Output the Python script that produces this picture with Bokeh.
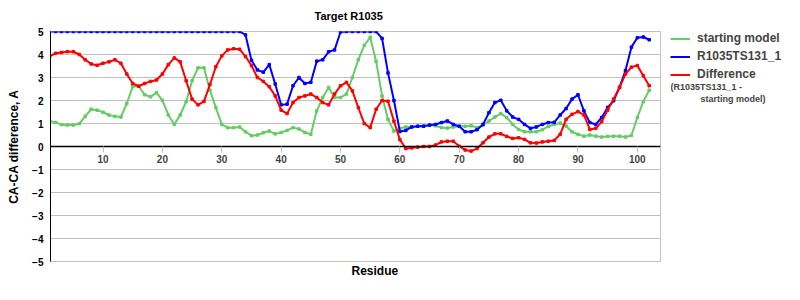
from bokeh.plotting import figure
from bokeh.layouts import row
from bokeh.models import (Range1d, LinearAxis, FixedTicker, Legend, LegendItem,
                          Label, Title)
from bokeh.embed import file_html
from bokeh.resources import INLINE

# ---------------- data ----------------
residues = list(range(1, 103))

starting_model = [
    1.11, 1.05, 0.95, 0.93, 0.93, 0.99, 1.31, 1.62, 1.58, 1.49,
    1.37, 1.31, 1.28, 1.87, 2.60, 2.63, 2.25, 2.16, 2.34, 2.01,
    1.37, 0.96, 1.37, 1.95, 2.86, 3.42, 3.42, 2.45, 1.69, 0.96,
    0.82, 0.82, 0.85, 0.64, 0.47, 0.50, 0.60, 0.67, 0.55, 0.61,
    0.70, 0.82, 0.76, 0.61, 0.53, 1.55, 2.13, 2.57, 2.13, 2.13,
    2.28, 3.00, 3.77, 4.40, 4.75, 3.70, 2.20, 1.18, 0.67, 0.79,
    0.85, 0.85, 0.88, 0.90, 0.93, 0.90, 0.82, 0.80, 0.85, 0.88,
    0.88, 0.90, 0.82, 0.93, 1.11, 1.28, 1.43, 1.26, 0.96, 0.74,
    0.64, 0.64, 0.64, 0.73, 0.87, 0.96, 1.02, 0.89, 0.64, 0.53,
    0.45, 0.50, 0.45, 0.41, 0.44, 0.45, 0.45, 0.41, 0.48, 1.26,
    1.95, 2.45,
]

r1035ts131_1 = [
    5.00, 5.00, 5.00, 5.00, 5.00, 5.00, 5.00, 5.00, 5.00, 5.00,
    5.00, 5.00, 5.00, 5.00, 5.00, 5.00, 5.00, 5.00, 5.00, 5.00,
    5.00, 5.00, 5.00, 5.00, 5.00, 5.00, 5.00, 5.00, 5.00, 5.00,
    5.00, 5.00, 5.00, 4.85, 3.75, 3.33, 3.23, 3.56, 2.72, 1.81,
    1.84, 2.64, 3.00, 2.74, 2.79, 3.71, 3.77, 4.12, 4.20, 4.98,
    5.00, 5.00, 5.00, 5.00, 5.00, 5.00, 4.70, 3.20, 2.00, 0.65,
    0.70, 0.85, 0.88, 0.88, 0.93, 0.96, 1.04, 1.11, 0.96, 0.88,
    0.64, 0.64, 0.73, 0.96, 1.47, 1.91, 2.01, 1.55, 1.28, 1.18,
    0.96, 0.79, 0.85, 0.96, 1.04, 1.05, 1.37, 1.65, 2.06, 2.25,
    1.55, 1.04, 0.96, 1.26, 1.70, 1.99, 2.57, 3.30, 4.32, 4.73,
    4.76, 4.64,
]

difference = [
    3.92, 4.05, 4.09, 4.12, 4.12, 4.00, 3.77, 3.59, 3.53, 3.62,
    3.68, 3.77, 3.62, 3.15, 2.74, 2.62, 2.74, 2.83, 2.89, 3.15,
    3.56, 3.85, 3.68, 2.86, 2.06, 1.81, 1.96, 2.69, 3.47, 3.94,
    4.20, 4.25, 4.23, 3.91, 3.52, 3.00, 2.83, 2.60, 2.20, 1.58,
    1.43, 1.91, 2.13, 2.20, 2.28, 2.13, 1.91, 1.81, 2.28, 2.64,
    2.79, 2.42, 1.69, 1.00, 0.82, 1.62, 2.00, 1.97, 1.10, 0.30,
    -0.09, -0.06, -0.03, 0.00, 0.00, 0.06, 0.20, 0.23, 0.23, 0.01,
    -0.15, -0.20, -0.09, 0.16, 0.41, 0.55, 0.55, 0.44, 0.35, 0.38,
    0.31, 0.16, 0.15, 0.20, 0.23, 0.26, 0.53, 1.18, 1.40, 1.52,
    1.37, 0.74, 0.79, 1.08, 1.58, 2.06, 2.57, 3.15, 3.45, 3.52,
    3.08, 2.64,
]

x_ticks = [10, 20, 30, 40, 50, 60, 70, 80, 90, 100]
y_ticks = [-5, -4, -3, -2, -1, 0, 1, 2, 3, 4, 5]

title_text = "Target R1035"
x_label = "Residue"
y_label = "CA-CA difference, A"
series_names = ["starting model", "R1035TS131_1", "Difference"]
diff_note = ["(R1035TS131_1 -", "starting model)"]

# ---------------- styles ----------------
FONT = "Liberation Sans"
GREEN = "#66cc66"
BLUE = "#0000ff"
RED = "#ff0000"
GRID = "#c0c0c0"
colors = [GREEN, BLUE, RED]

p = figure(width=661, height=300, output_backend="svg", toolbar_location=None,
           x_range=Range1d(1.15, 103.9), y_range=Range1d(-5, 5),
           x_axis_location=None,
           min_border_left=50, min_border_right=1,
           min_border_top=31, min_border_bottom=39)

p.title = Title(text=title_text, align="left", offset=264,
                vertical_align="top",
                text_font=FONT, text_font_size="11px", text_font_style="bold",
                text_color="black", standoff=16)

p.outline_line_color = GRID
p.background_fill_color = "white"
p.border_fill_color = "white"

# y axis
ya = p.yaxis[0]
ya.ticker = FixedTicker(ticks=y_ticks)
ya.major_tick_out = 0
ya.major_tick_in = 0
ya.minor_tick_line_color = None
ya.axis_line_color = "black"
ya.major_label_text_font = FONT
ya.major_label_text_font_size = "10px"
ya.major_label_text_font_style = "bold"
ya.major_label_text_color = "black"
ya.major_label_standoff = 7
ya.axis_label = y_label
ya.axis_label_text_font = FONT
ya.axis_label_text_font_size = "12px"
ya.axis_label_text_font_style = "bold"
ya.axis_label_text_color = "black"
ya.axis_label_standoff = 8

p.ygrid.ticker = FixedTicker(ticks=y_ticks)
p.ygrid.grid_line_color = GRID
p.xgrid.visible = False

# x-axis title below the plot area
p.add_layout(Title(text=x_label, align="left", offset=301, standoff=0,
                   text_font=FONT, text_font_size="12px",
                   text_font_style="bold", text_color="black"), "below")

# x axis drawn through y = 0
xa = LinearAxis(ticker=FixedTicker(ticks=x_ticks), fixed_location=0,
                axis_line_color="black", axis_line_width=1.5,
                major_tick_line_color=GRID, major_tick_out=6, major_tick_in=0,
                minor_tick_line_color=None,
                major_label_text_font=FONT, major_label_text_font_size="10px",
                major_label_text_font_style="bold", major_label_standoff=2)
p.add_layout(xa, "below")

# series
series = [starting_model, r1035ts131_1, difference]
for vals, col in zip(series, colors):
    p.line(residues, vals, line_color=col, line_width=2)
    p.scatter(residues, vals, marker="square", size=2.5, color=col)

# ---------------- legend panel (its frame is aligned with the plot frame) ----
lg = figure(width=139, height=300, output_backend="svg", toolbar_location=None,
            x_range=Range1d(0, 130), y_range=Range1d(230, 0),
            x_axis_location=None, y_axis_location=None,
            min_border_left=9, min_border_right=0,
            min_border_top=31, min_border_bottom=39)
lg.outline_line_color = None
lg.xgrid.visible = False
lg.ygrid.visible = False
lg.background_fill_color = "white"
lg.border_fill_color = "white"

nan = float("nan")
items = []
for name, col in zip(series_names, colors):
    r = lg.line(x=[nan, nan], y=[nan, nan], line_color=col, line_width=2)
    items.append(LegendItem(label=name, renderers=[r]))

legend = Legend(items=items, location="top_left", padding=0, margin=0,
                spacing=4, glyph_width=20, glyph_height=13, label_height=13,
                label_standoff=7, label_text_font=FONT,
                label_text_font_size="12px", label_text_font_style="bold",
                border_line_alpha=0, background_fill_alpha=0)
lg.add_layout(legend)

lg.add_layout(Label(x=0, y=55, text=diff_note[0], text_font=FONT,
                    text_font_size="9px", text_font_style="bold",
                    text_baseline="middle"))
lg.add_layout(Label(x=30, y=67, text=diff_note[1], text_font=FONT,
                    text_font_size="9px", text_font_style="bold",
                    text_baseline="middle"))

layout = row(p, lg, spacing=0)
open("out.html", "w").write(file_html(layout, INLINE))
